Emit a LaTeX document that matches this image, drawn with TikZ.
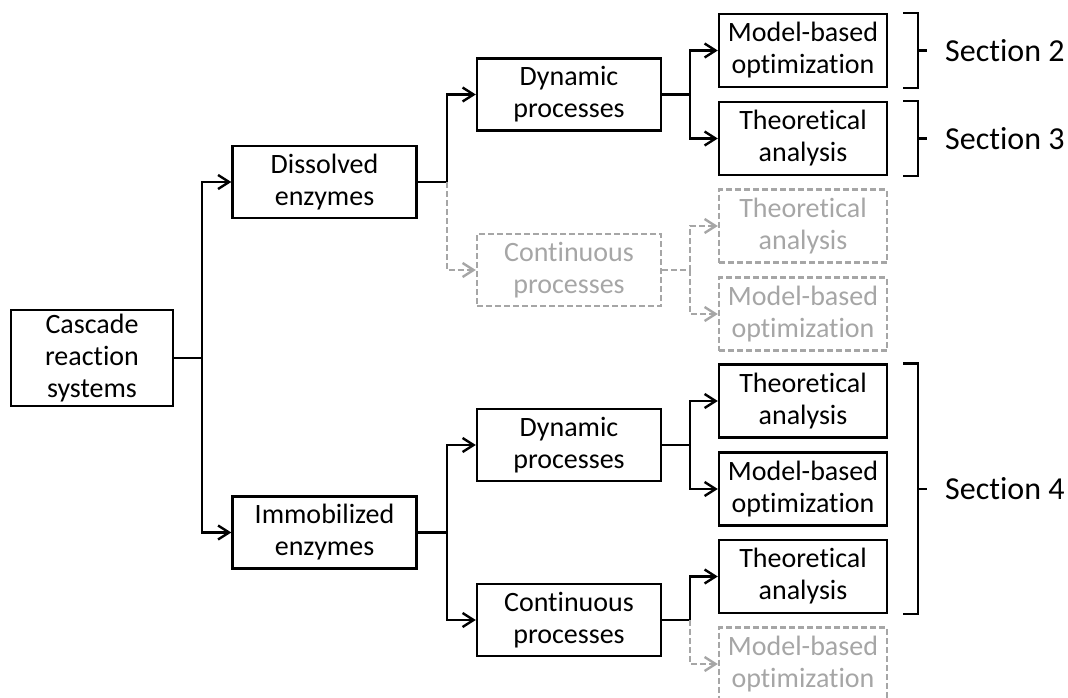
\documentclass[tikz,border=0pt]{standalone}
\usepackage{fontspec}
\setmainfont{Carlito}[Ligatures=NoCommon]
\usepackage{tikz}
\usetikzlibrary{calc,
                arrows.meta}
\usepackage{xcolor}
\definecolor{ghostgray}{HTML}{A6A6A6}

\begin{document}
\begin{tikzpicture}[x=1pt,y=-1pt]

\tikzset{
box/.style={
draw=black,
line width=2.4pt,
align=center,
inner sep=2pt,
font=\fontsize{28}{32}\selectfont
},
rootbox/.style={box,minimum width=162pt,minimum height=96pt},
midbox/.style={box,minimum width=184pt,minimum height=72pt},
leafbox/.style={box,minimum width=168pt,minimum height=73pt},
ghost/.style={
draw=ghostgray,
text=ghostgray,
dash pattern=on 6pt off 3pt
},
link/.style={
line width=2.4pt,
-{Straight Barb[length=11pt,width=14pt]}
},
ghostlink/.style={link,draw=ghostgray,dash pattern=on 6pt off 3pt},
bracket/.style={line width=2.4pt},
sectionlabel/.style={
anchor=west,
inner xsep=0pt,
font=\fontsize{32}{38}\selectfont
}
}

\useasboundingbox (0,0) rectangle (1068,698);

%--------------------------------------------------
% ROOT
%--------------------------------------------------

\node[rootbox] (cascade) at (92,358) {Cascade\\reaction\\systems};

%--------------------------------------------------
% ENZYME STATE
%--------------------------------------------------

\node[midbox] (dissolved) at (324.5,182) {Dissolved\\enzymes};
\node[midbox] (immobilized) at (324.5,532.5) {Immobilized\\enzymes};

%--------------------------------------------------
% PROCESS MODE
%--------------------------------------------------

\node[midbox] (dyntop) at (569,94.5) {Dynamic\\processes};
\node[midbox,ghost] (conttop) at (569,270) {Continuous\\processes};
\node[midbox] (dynbot) at (569,445) {Dynamic\\processes};
\node[midbox] (contbot) at (569,620) {Continuous\\processes};

%--------------------------------------------------
% METHODS
%--------------------------------------------------

\node[leafbox] (optA) at (803,50.5) {Model-based\\optimization};
\node[leafbox] (theoA) at (803,138.5) {Theoretical\\analysis};
\node[leafbox,ghost] (theoB) at (803,226) {Theoretical\\analysis};
\node[leafbox,ghost] (optB) at (803,314) {Model-based\\optimization};
\node[leafbox] (theoC) at (803,401) {Theoretical\\analysis};
\node[leafbox] (optC) at (803,489) {Model-based\\optimization};
\node[leafbox] (theoD) at (803,576.5) {Theoretical\\analysis};
\node[leafbox,ghost] (optD) at (803,664) {Model-based\\optimization};

%--------------------------------------------------
% SECTIONS
%--------------------------------------------------

\node[sectionlabel] (sec2) at (945,50.5) {Section 2};
\node[sectionlabel] (sec3) at (945,138.5) {Section 3};
\node[sectionlabel] (sec4) at (945,488.75) {Section 4};

\draw[bracket] ([xshift=15pt]optA.north east) -- ++(15,0) |- ([xshift=15pt]optA.south east);
\draw[bracket] ([xshift=15pt]theoA.north east) -- ++(15,0) |- ([xshift=15pt]theoA.south east);
\draw[bracket] ([xshift=15pt]theoC.north east) -- ++(15,0) |- ([xshift=15pt]theoD.south east);
\draw[bracket] ([xshift=-27pt]sec2.west) -- ([xshift=-18pt]sec2.west);
\draw[bracket] ([xshift=-27pt]sec3.west) -- ([xshift=-18pt]sec3.west);
\draw[bracket] ([xshift=-27pt]sec4.west) -- ([xshift=-18pt]sec4.west);

%--------------------------------------------------
% CONNECTORS
%--------------------------------------------------

\draw[link] (cascade.east) -- ++(28,0) |- (dissolved.west);
\draw[link] (cascade.east) ++(28,0) |- (immobilized.west);

\draw[link] (dissolved.east) -- ++(29,0) |- (dyntop.west);
\draw[ghostlink] (dissolved.east) ++(29,0) |- (conttop.west);
\draw[link] (immobilized.east) -- ++(29,0) |- (dynbot.west);
\draw[link] (immobilized.east) ++(29,0) |- (contbot.west);

\draw[link] (dyntop.east) -- ++(28,0) |- (optA.west);
\draw[link] (dyntop.east) ++(28,0) |- (theoA.west);
\draw[ghostlink] (conttop.east) -- ++(28,0) |- (theoB.west);
\draw[ghostlink] (conttop.east) ++(28,0) |- (optB.west);
\draw[link] (dynbot.east) -- ++(28,0) |- (theoC.west);
\draw[link] (dynbot.east) ++(28,0) |- (optC.west);
\draw[link] (contbot.east) -- ++(28,0) |- (theoD.west);
\draw[ghostlink] (contbot.east) ++(28,0) |- (optD.west);

\end{tikzpicture}
\end{document}
